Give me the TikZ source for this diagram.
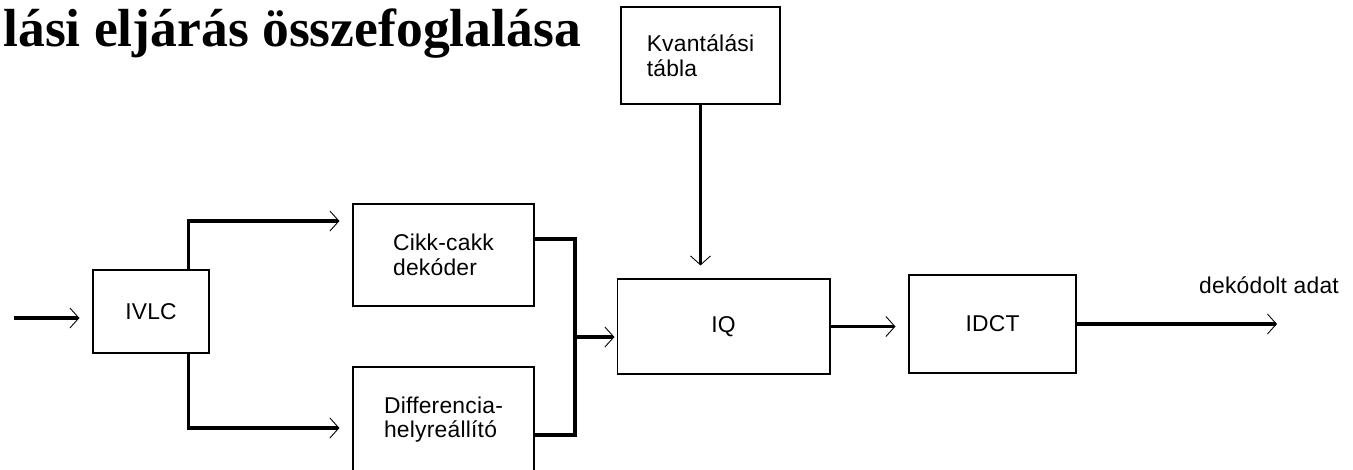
\documentclass[tikz,border=0pt]{standalone}
\usepackage{fontspec}
\setmainfont{Liberation Serif}
\newfontfamily\boxfont[LetterSpace=1]{Liberation Sans}
\usetikzlibrary{arrows.meta,calc}

\begin{document}
\begin{tikzpicture}[x=0.02cm,y=-0.02cm,
  block/.style={draw,line width=0.6pt,align=left,inner sep=0pt,
    font=\boxfont\fontsize{13pt}{14pt}\selectfont},
  wire/.style={line width=1.8pt},
  flow/.style={wire,-{Straight Barb[length=0.18cm,width=0.4cm,line width=0.5pt]},
    shorten >=0.26cm}]
\useasboundingbox (0,0) rectangle (1353,470);
\clip (0,0) rectangle (1353,470);
% title, cut at the left edge
\node[anchor=base west,inner sep=0pt,font=\bfseries\fontsize{30.5pt}{36pt}\selectfont]
  (title) at (3,47) {lási eljárás összefoglalása};
% blocks
\node[block,minimum width=3.18cm,minimum height=1.94cm] (kvant) at (700.5,55.5) {Kvantálási\\tábla};
\node[block,minimum width=2.32cm,minimum height=1.66cm] (ivlc) at (151,311.5) {IVLC};
\node[block,minimum width=3.62cm,minimum height=2.04cm] (cikk) at (443.5,255) {Cikk-cakk\\dekóder};
\node[block,minimum width=3.62cm,minimum height=2.1cm] (diff) at (443.5,419.5) {Differencia-\\helyreállító};
\node[block,minimum width=4.26cm,minimum height=1.9cm] (iq) at (723.5,326.5) {IQ};
\node[block,minimum width=3.34cm,minimum height=1.96cm] (idct) at (992.5,324) {IDCT};
% input and the two branches
\coordinate (in) at (14,318);
\draw[flow] (in) -- (in -| ivlc.west);
\draw[flow] (ivlc.north east)++(-21,0) |- ($(cikk.west)+(0,-34)$);
\draw[flow] (ivlc.south east)++(-21,0) |- ($(diff.west)+(0,8.5)$);
% join into IQ
\coordinate (merge) at (575,337);
\draw[wire] (cikk.east)++(0,-16) -| (merge);
\draw[wire] (diff.east)++(0,15.5) -| (merge);
\draw[flow,shorten >=0.04cm] (merge) -- (merge -| iq.west);
\draw[flow] (kvant.south) -- (kvant.south |- iq.north);
% output
\draw[flow] (iq.east) -- (iq.east -| idct.west);
\coordinate (out) at (1277,327);
\draw[flow,shorten >=0pt] (idct.east) -- (idct.east -| out)
  node[above=0.58cm,xshift=-0.16cm,inner sep=0pt,font=\boxfont\fontsize{13pt}{14pt}\selectfont]
  (outlabel) {dekódolt adat};
\end{tikzpicture}
\end{document}
